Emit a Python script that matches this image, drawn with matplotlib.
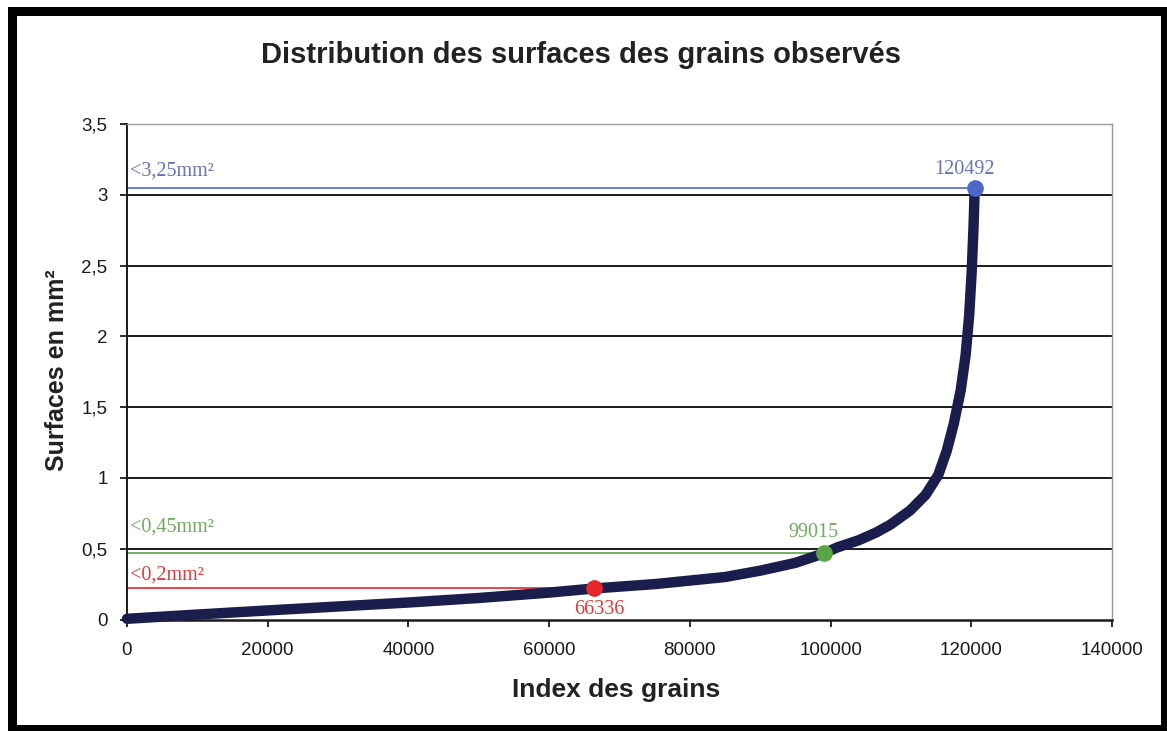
import matplotlib.pyplot as plt
from matplotlib.patches import Rectangle

# surface des grains triés par ordre croissant (index -> mm²)
index_grains = [0, 10000, 20000, 30000, 40000, 50000, 60000, 66336, 75000,
                85000, 90000, 95000, 99015, 101000, 104000, 106500, 108500,
                111300, 113500, 115300, 116500, 117500, 118500, 119200,
                119700, 120050, 120300, 120492]
surfaces = [0.005, 0.035, 0.064, 0.092, 0.12, 0.152, 0.19, 0.219, 0.25,
            0.30, 0.345, 0.40, 0.467, 0.51, 0.56, 0.615, 0.67,
            0.77, 0.88, 1.02, 1.19, 1.38, 1.62, 1.87,
            2.15, 2.45, 2.75, 3.05]

# seuils : index du dernier grain sous le seuil et surface correspondante
seuil_index = [120492, 99015, 66336]
seuil_surface = [3.05, 0.467, 0.219]
seuil_textes = ["<3,25mm²", "<0,45mm²", "<0,2mm²"]
seuil_couleurs = ["#4d68c8", "#5aa546", "#e5262b"]
seuil_couleurs_txt = ["#6a72b8", "#72a862", "#e03a3a"]

x_ticks = [0, 20000, 40000, 60000, 80000, 100000, 120000, 140000]
y_ticks = [0, 0.5, 1, 1.5, 2, 2.5, 3, 3.5]

fig = plt.figure(figsize=(11.67, 7.31), dpi=100)
ax = fig.add_axes([127 / 1167, 1 - 619.5 / 731, 985 / 1167, 495.5 / 731])

for y in y_ticks[1:-1]:
    ax.axhline(y, color="#1a1a1a", lw=1.4, zorder=1)

for i in range(3):
    ax.plot([0, seuil_index[i]], [seuil_surface[i], seuil_surface[i]],
            color=seuil_couleurs[i], lw=1.2, zorder=2)

ax.plot(index_grains, surfaces, color="#1b1d4c", lw=7.5, solid_capstyle="round",
        solid_joinstyle="round", zorder=3, clip_on=False)

for i in range(3):
    ax.plot(seuil_index[i], seuil_surface[i], "o", ms=11,
            color=seuil_couleurs[i], zorder=4)

serif = "Liberation Serif"
ax.text(400, seuil_surface[0] + 0.05, seuil_textes[0], color=seuil_couleurs_txt[0],
        family=serif, fontsize=14.5, va="bottom", ha="left")
ax.text(seuil_index[0] - 1500, seuil_surface[0] + 0.065, str(seuil_index[0]),
        color=seuil_couleurs_txt[0], family=serif, fontsize=14.5,
        va="bottom", ha="center")
ax.text(400, 0.585, seuil_textes[1], color=seuil_couleurs_txt[1],
        family=serif, fontsize=14.5, va="bottom", ha="left")
ax.text(seuil_index[1] - 1500, 0.545, str(seuil_index[1]),
        color=seuil_couleurs_txt[1], family=serif, fontsize=14.5,
        va="bottom", ha="center")
ax.text(400, 0.245, seuil_textes[2], color=seuil_couleurs_txt[2],
        family=serif, fontsize=14.5, va="bottom", ha="left")
ax.text(seuil_index[2] + 800, 0.14, str(seuil_index[2]),
        color=seuil_couleurs_txt[2], family=serif, fontsize=14.5,
        va="top", ha="center")

ax.set_xlim(0, 140000)
ax.set_ylim(0, 3.5)
ax.set_xticks(x_ticks)
ax.set_xticklabels([str(v) for v in x_ticks])
ax.set_yticks(y_ticks)
ax.set_yticklabels([("%g" % v).replace(".", ",") for v in y_ticks])
ax.tick_params(direction="out", length=5, width=1.3, color="#1a1a1a",
               labelsize=13.5, labelcolor="#1a1a1a")
ax.tick_params(axis="x", pad=11)
ax.tick_params(axis="y", pad=9)
for lab in ax.get_xticklabels() + ax.get_yticklabels():
    lab.set_family("Liberation Sans")

ax.spines["left"].set_color("#1a1a1a")
ax.spines["left"].set_linewidth(1.4)
ax.spines["bottom"].set_color("#1a1a1a")
ax.spines["bottom"].set_linewidth(1.8)
ax.spines["top"].set_color("#9a9a9a")
ax.spines["top"].set_linewidth(1)
ax.spines["right"].set_color("#9a9a9a")
ax.spines["right"].set_linewidth(1)

fig.text(581 / 1167, 1 - 55 / 731, "Distribution des surfaces des grains observés",
         ha="center", va="center", fontsize=21, fontweight="bold",
         family="Liberation Sans", color="#222222")
fig.text(616 / 1167, 1 - 690 / 731, "Index des grains", ha="center", va="center",
         fontsize=19, fontweight="bold", family="Liberation Sans", color="#222222")
fig.text(57 / 1167, 1 - 370 / 731, "Surfaces en mm²", ha="center", va="center",
         rotation=90, fontsize=18, fontweight="bold", family="Liberation Sans",
         color="#222222")

# cadre noir autour du graphique
fig.patches.append(Rectangle((11.5 / 1167, 2 / 731), 1153 / 1167, 718 / 731,
                             transform=fig.transFigure, fill=False,
                             edgecolor="black", lw=6.5, zorder=10))

fig.savefig("out.png", dpi=100)
